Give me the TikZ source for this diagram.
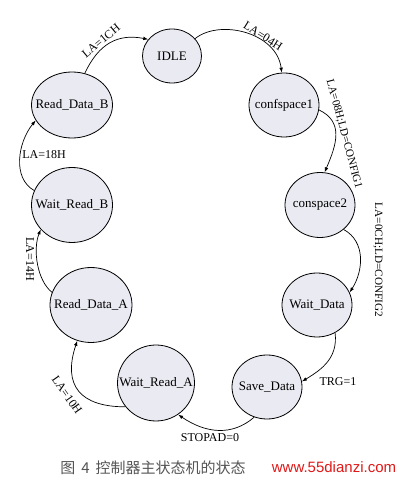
\documentclass[tikz,border=0pt]{standalone}
\usepackage{fontspec}
\setmainfont{Liberation Serif}
\newfontfamily\cjkfont{Noto Sans CJK SC}
\newfontfamily\wmfont{Liberation Sans}
\usetikzlibrary{arrows.meta,shapes.geometric}

\definecolor{statefill}{HTML}{EAEAF2}
\definecolor{capgray}{HTML}{555555}
\definecolor{wmred}{HTML}{E01818}

\begin{document}
\begin{tikzpicture}[x=1pt,y=1pt,
  state/.style={ellipse, draw, line width=0.8pt, fill=statefill, inner sep=0pt},
  every label/.style={inner sep=0pt, font=\fontsize{13}{15}\selectfont},
  trans/.style={line width=0.7pt, -{Latex[length=5pt,width=3.6pt]}},
  lbl/.style={inner sep=0pt, font=\fontsize{12}{14}\selectfont},
  longlbl/.style={inner sep=0pt, font=\fontsize{11.2}{13}\selectfont}]
  \useasboundingbox (0,0) rectangle (404,480);

  \node[state, minimum width=59, minimum height=54, label=center:IDLE] (idle) at (172,424) {};
  \node[state, minimum width=70, minimum height=64, label=center:confspace1] (conf1) at (284,375) {};
  \node[state, minimum width=70, minimum height=65, label=center:conspace2] (conf2) at (320,275) {};
  \node[state, minimum width=70, minimum height=64, label=center:Wait\_Data] (waitdata) at (317,175) {};
  \node[state, minimum width=70, minimum height=64, label=center:Save\_Data] (savedata) at (267,93) {};
  \node[state, minimum width=77, minimum height=76, label=center:Wait\_Read\_A] (waitra) at (156,97) {};
  \node[state, minimum width=82, minimum height=75, label=center:Read\_Data\_A] (readda) at (91,175) {};
  \node[state, minimum width=81, minimum height=75, label=center:Wait\_Read\_B] (waitrb) at (72,275) {};
  \node[state, minimum width=81, minimum height=66, label=center:Read\_Data\_B] (readdb) at (72,375) {};

  \draw[trans] (readdb.68) .. controls +(14,30) and +(-30,6) .. (idle.145);
  \draw[trans] (idle.37) .. controls +(25,20) and +(-5,40) .. (conf1.94);
  \draw[trans] (conf1.-8) .. controls +(25,-12) and +(12,28) .. (conf2.82);
  \draw[trans] (conf2.-46) .. controls +(22,-12) and +(14,22) .. (waitdata.21);
  \draw[trans] (waitdata.-57) .. controls +(3,-25) and +(20,12) .. (savedata.9);
  \draw[trans] (savedata.-113) .. controls +(-22,-19) and +(28,-19) .. (waitra.-55);
  \draw[trans] (waitra.-142) .. controls +(-45,0) and +(-15,-45) .. (readda.-111);
  \draw[trans] (readda.162) .. controls +(-15,12) and +(-8,-20) .. (waitrb.-142);
  \draw[trans] (waitrb.159) .. controls +(-22,12) and +(-18,-22) .. (readdb.-157);

  \node[lbl, rotate=40] (l1ch) at (101,439) {LA=1CH};
  \node[lbl, rotate=-32] (l04h) at (263,444) {LA=04H};
  \node[longlbl, rotate=-75] (l08h) at (344,346) {LA=08H;LD=CONFIG1};
  \node[longlbl, rotate=-90] (l0ch) at (378,220) {LA=0CH;LD=CONFIG2};
  \node[lbl] (ltrg) at (338,98) {TRG=1};
  \node[lbl] (lstop) at (210,42) {STOPAD=0};
  \node[lbl, rotate=-55] (l10h) at (67,85) {LA=10H};
  \node[lbl, rotate=-90] (l14h) at (30,221) {LA=14H};
  \node[lbl] (l18h) at (44,325) {LA=18H};

  \node[capgray, inner sep=0pt, font=\cjkfont\fontsize{15}{17}\selectfont] (caption) at (153,12) {图\hspace{0.4em}4\hspace{0.4em}控制器主状态机的状态};
  \node[wmred, inner sep=0pt, font=\wmfont\fontsize{15}{17}\selectfont] (mark) at (334,13) {www.55dianzi.com};
\end{tikzpicture}
\end{document}
